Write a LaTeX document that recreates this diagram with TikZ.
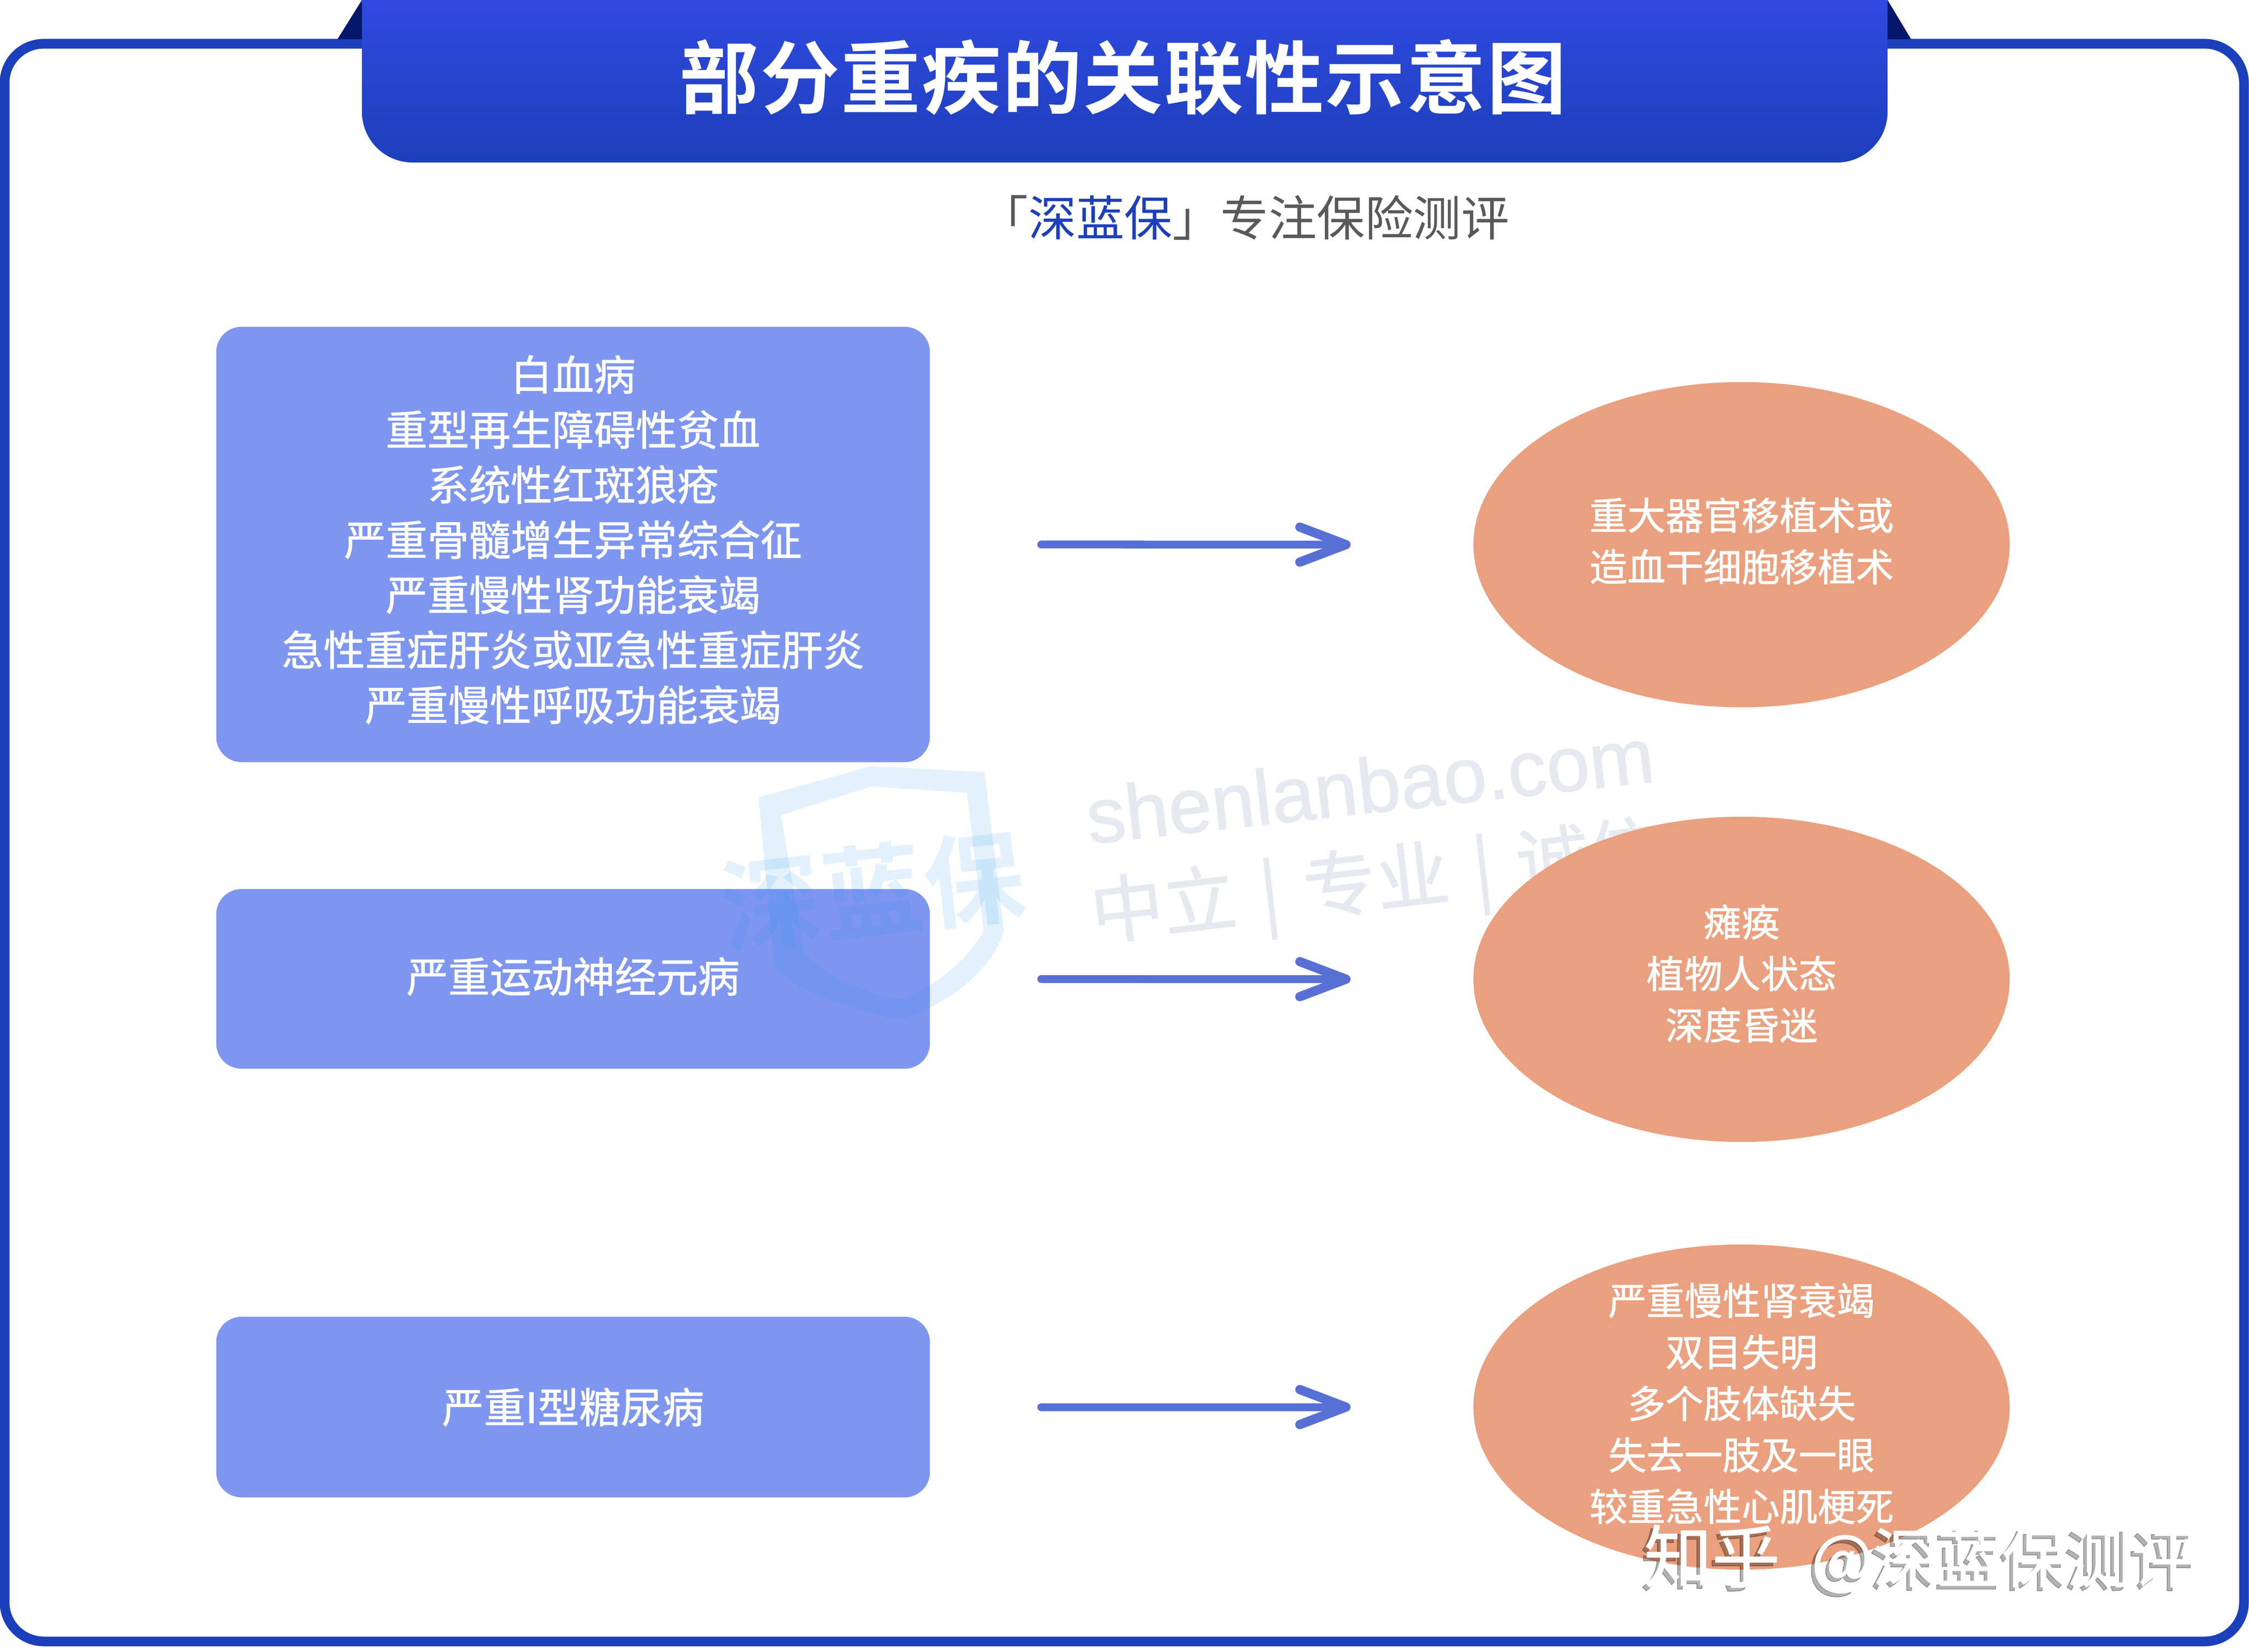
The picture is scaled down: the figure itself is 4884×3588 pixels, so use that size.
\documentclass[tikz,border=0pt]{standalone}
\usepackage{fontspec}
\setmainfont{Noto Sans CJK SC}
\setsansfont{Liberation Sans}[FakeBold=1.2]
\newfontfamily\medfont{Noto Sans CJK SC}[FakeBold=1.2]
\newfontfamily\titlefont{Noto Sans CJK SC Bold}[LetterSpace=1.8]
\usetikzlibrary{shapes.geometric,arrows.meta}
\newcommand{\lift}[1]{\rule[-#1]{0pt}{0pt}}
\newcommand{\zhihutext}{知乎\hspace{10pt} {\fontsize{40}{40}\selectfont @深蓝保测评}}
\definecolor{framecol}{HTML}{1C3FBB}
\definecolor{bannertop}{HTML}{3049E0}
\definecolor{foldcol}{HTML}{04176B}
\definecolor{boxcol}{HTML}{7F96F0}
\definecolor{ovalcol}{HTML}{EAA07E}
\definecolor{arrowcol}{HTML}{5870D6}
\definecolor{markcol}{HTML}{E6EAF0}
\definecolor{shieldcol}{HTML}{1693EE}
\tikzstyle{box}=[rectangle,rounded corners=0.55cm,fill=boxcol,text=white,align=center,minimum width=15.49cm,font=\fontsize{25.7}{34}\medfont\selectfont]
\tikzstyle{oval}=[ellipse,fill=ovalcol,text=white,align=center,inner sep=0pt,minimum width=11.64cm,minimum height=7.06cm,font=\fontsize{23.5}{31.8}\medfont\selectfont]
\tikzstyle{link}=[line width=0.17cm,arrowcol,line cap=round,shorten <=2.41cm,shorten >=2.66cm,-{Straight Barb[length=1cm,width=0.76cm,round,line width=0.2cm]}]
\begin{document}
\begin{tikzpicture}[x=0.01cm,y=-0.01cm]
\useasboundingbox (0,0) rectangle (4884,3588);
\fill[white] (0,0) rectangle (4884,3588);

\draw[framecol,line width=0.21cm,rounded corners=0.85cm] (10,95) rectangle (4873,3565);
\fill[foldcol] (786,0) -- (733,85) -- (786,85) -- cycle;
\fill[foldcol] (4099,0) -- (4150,85) -- (4099,85) -- cycle;
\shade[top color=bannertop,bottom color=framecol] (786,0) {[rounded corners=1.1cm] -- (786,353) -- (4099,353)} -- (4099,0) -- cycle;

\node (title) at (2439,168) [text=white,font=\fontsize{49}{49}\titlefont\selectfont] {部分重疾的关联性示意图};
\node (slogan) at (2703,473) [text=black!65,font=\fontsize{29.7}{29.7}\selectfont] {「\textcolor{framecol}{深蓝保}」专注保险测评};

\node (site) at (2975,1705) [rotate=6.3,text=markcol,font=\fontsize{48}{48}\sffamily\selectfont] {shenlanbao.com};
\node (motto) at (2990,1925) [rotate=6.5,text=markcol,font=\fontsize{45}{45}\medfont\selectfont] {中立\hspace{5pt} | \hspace{5pt}专业\hspace{5pt} | \hspace{5pt}诚信};

\node (boxa) at (1244.5,1182.5) [box,minimum height=9.45cm] {白血病\\重型再生障碍性贫血\\系统性红斑狼疮\\严重骨髓增生异常综合征\\严重慢性肾功能衰竭\\急性重症肝炎或亚急性重症肝炎\\严重慢性呼吸功能衰竭\lift{8pt}};
\node (boxb) at (1244.5,2126) [box,minimum height=3.9cm] {严重运动神经元病\lift{5pt}};
\node (boxc) at (1244.5,3056) [box,minimum height=3.92cm] {严重I型糖尿病};

\fill[shieldcol,fill opacity=0.12,even odd rule] (1647,1732) -- (1893,1664) -- (2138,1677) -- (2180,2021) .. controls (2150,2120) and (2040,2190) .. (1949,2215) .. controls (1840,2190) and (1720,2150) .. (1682,2100) -- cycle (1696,1770) -- (1893,1708) -- (2100,1722) -- (2136,2021) .. controls (2100,2090) and (2020,2150) .. (1949,2172) .. controls (1860,2150) and (1780,2110) .. (1746,2067) -- cycle;
\node (shieldtext) at (1895,1935) [rotate=6.5,text=shieldcol,text opacity=0.12,font=\fontsize{62}{62}\titlefont\selectfont] {深蓝保};

\node (ovala) at (3782,1183) [oval] {重大器官移植术或\\造血干细胞移植术\lift{6.5pt}};
\node (ovalb) at (3782,2127) [oval] {瘫痪\\植物人状态\\深度昏迷\lift{9pt}};
\node (ovalc) at (3782,3056) [oval,inner ysep=-0.6cm] {严重慢性肾衰竭\\双目失明\\多个肢体缺失\\失去一肢及一眼\\较重急性心肌梗死\lift{6.5pt}};

\draw[link] (boxa) -- (ovala);
\draw[link] (boxb) -- (ovalb);
\draw[link] (boxc) -- (ovalc);

\node (zhihushade) at (4162,3394) [text=black,text opacity=0.3,font=\fontsize{42}{42}\medfont\selectfont] {\zhihutext};
\node (zhihu) at (4170,3386) [text=white,font=\fontsize{42}{42}\medfont\selectfont] {\zhihutext};
\end{tikzpicture}
\end{document}
